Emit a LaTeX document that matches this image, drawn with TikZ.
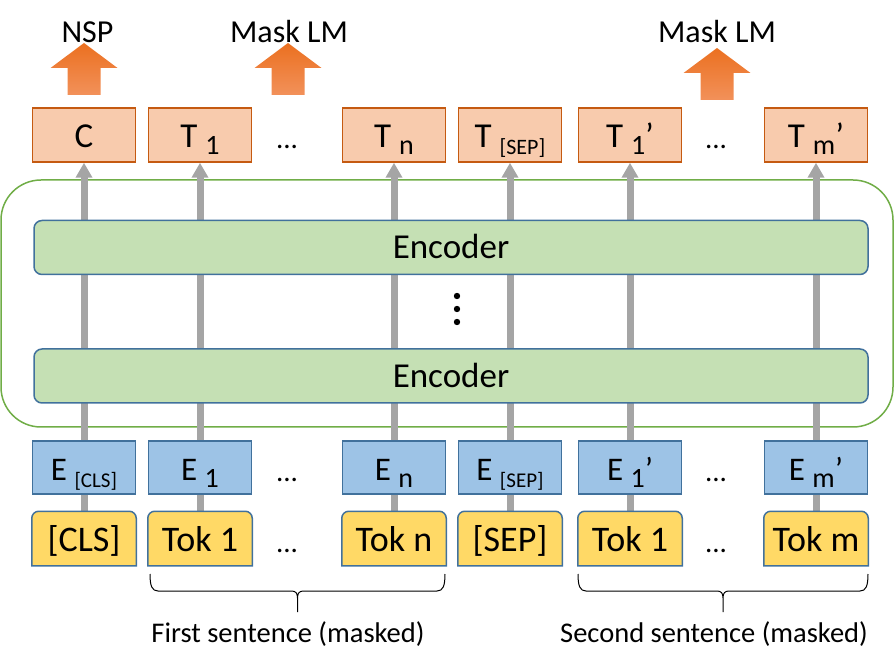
\documentclass[tikz,border=0pt]{standalone}
\usepackage{fontspec}
\setmainfont{Carlito}
\usetikzlibrary{positioning}
\usetikzlibrary{arrows.meta}
\pgfdeclarelayer{background}
\pgfsetlayers{background,main}
\definecolor{tline}{HTML}{C55A11}
\definecolor{tfill}{HTML}{F8CBAD}
\definecolor{bline}{HTML}{41719C}
\definecolor{efill}{HTML}{9DC3E6}
\definecolor{tokfill}{HTML}{FFD966}
\definecolor{encfill}{HTML}{C5E0B4}
\definecolor{blockgreen}{HTML}{70AD47}
\definecolor{flow}{HTML}{A5A5A5}
\definecolor{otop}{HTML}{EB7020}
\definecolor{obot}{HTML}{F2915A}
\newcommand{\sub}[2][28]{\raisebox{-7pt}{\fontsize{#1}{#1}\selectfont #2}}
\newcommand{\sentbrace}[3]% left x, right x, top y
{(#1,#3) .. controls (#1,#3+12) and (#1+2,#3+17) .. (#1+8,#3+17)
 -- ({(#1+#2)/2-6},#3+17) .. controls ({(#1+#2)/2-2},#3+17) and ({(#1+#2)/2},#3+19) .. ({(#1+#2)/2},#3+24)
 -- ({(#1+#2)/2},#3+38)
 (#2,#3) .. controls (#2,#3+12) and (#2-2,#3+17) .. (#2-8,#3+17)
 -- ({(#1+#2)/2+6},#3+17) .. controls ({(#1+#2)/2+2},#3+17) and ({(#1+#2)/2},#3+19) .. ({(#1+#2)/2},#3+24)
}
\newcommand{\taskarrow}[2]% tip x, tip y
{(#1,#2) -- (#1+33.5,#2+25) -- (#1+16.5,#2+25) -- (#1+16.5,#2+52) --
 (#1-16.5,#2+52) -- (#1-16.5,#2+25) -- (#1-33.5,#2+25) -- cycle
}
\newcommand{\tokshape}[1]% node name, top corners rounded
{(#1.south west) -- ([yshift=-7pt]#1.north west) arc[start angle=180,end angle=90,radius=7pt]
 -- ([xshift=-7pt]#1.north east) arc[start angle=90,end angle=0,radius=7pt] -- (#1.south east) -- cycle
}

\begin{document}
\begin{tikzpicture}[x=1pt,y=-1pt,line width=1.5pt]
\tikzstyle{tbox}=[draw=tline,fill=tfill,minimum width=103pt,minimum height=54pt,inner sep=0pt,text height=26pt,text depth=0pt,font=\fontsize{35}{35}\selectfont]
\tikzstyle{ebox}=[draw=bline,fill=efill,minimum width=103pt,minimum height=53pt,inner sep=0pt,text height=25pt,text depth=0pt,font=\fontsize{33}{33}\selectfont]
\tikzstyle{tokbox}=[minimum width=103pt,minimum height=53pt,inner sep=0pt,text height=26pt,text depth=0pt,font=\fontsize{36}{36}\selectfont]
\tikzstyle{encbox}=[draw=bline,fill=encfill,rounded corners=8pt,minimum width=834pt,minimum height=54pt,inner sep=0pt,text height=23pt,text depth=0pt,font=\fontsize{35}{35}\selectfont]
\tikzstyle{flowline}=[draw=flow,line width=7pt,-{Triangle[width=16pt,length=15pt]}]
\tikzstyle{dots}=[anchor=base,inner sep=0pt,font=\fontsize{29}{29}\selectfont]
\tikzstyle{task}=[anchor=base,inner sep=0pt,font=\fontsize{32}{32}\selectfont]
\tikzstyle{sent}=[anchor=base,inner sep=0pt,font=\fontsize{28.5}{28.5}\selectfont]
\useasboundingbox (0,0) rectangle (895,668);

% output row
\draw (84,135) node[tbox] (tc) {C}; % C
\draw (200,135) node[tbox] (t1) {T \sub{1}}; % T1
\draw (394,135) node[tbox] (tn) {T \sub{n}}; % Tn
\draw (510,135) node[tbox] (tsep) {T \sub[22]{[SEP]}}; % T[SEP]
\draw (630,135) node[tbox] (ta) {T \sub{1}’}; % T1'
\draw (816,135) node[tbox] (tm) {T \sub{m}’}; % Tm'

% encoder stack
\draw (451,247.5) node[encbox] (enctop) {Encoder};
\draw (451,376) node[encbox] (encbot) {Encoder};
\fill (457,296) circle (3.2) (457,309) circle (3.2) (457,322) circle (3.2); % vertical dots

% embedding row
\draw (84,467.5) node[ebox] (ecls) {E \sub[21]{[CLS]}}; % E[CLS]
\draw (200,467.5) node[ebox] (e1) {E \sub{1}}; % E1
\draw (394,467.5) node[ebox] (en) {E \sub{n}}; % En
\draw (510,467.5) node[ebox] (esep) {E \sub[21]{[SEP]}}; % E[SEP]
\draw (630,467.5) node[ebox] (ea) {E \sub{1}’}; % E1'
\draw (816,467.5) node[ebox] (em) {E \sub{m}’}; % Em'

% token row
\draw (84,538.5) node[tokbox] (cls) {[CLS]}; % [CLS]
\draw (200,538.5) node[tokbox] (tok1) {Tok 1}; % Tok 1
\draw (394,538.5) node[tokbox] (tokn) {Tok n}; % Tok n
\draw (510,538.5) node[tokbox] (sep) {[SEP]}; % [SEP]
\draw (630,538.5) node[tokbox] (toka) {Tok 1}; % Tok 1 (second)
\draw (816,538.5) node[tokbox] (tokm) {Tok m}; % Tok m

% dots between columns
\draw (287,149) node[dots] (dt1) {...};
\draw (716,149) node[dots] (dt2) {...};
\draw (287,482) node[dots] (de1) {...};
\draw (716,482) node[dots] (de2) {...};
\draw (287,552) node[dots] (dk1) {...};
\draw (716,552) node[dots] (dk2) {...};

\begin{pgfonlayer}{background}
\draw[blockgreen,line width=1.5pt,rounded corners=40pt] (1,180) rectangle (893,427); % transformer block
\draw[flowline] (cls.north) -- (tc.south);
\draw[flowline] (tok1.north) -- (t1.south);
\draw[flowline] (tokn.north) -- (tn.south);
\draw[flowline] (sep.north) -- (tsep.south);
\draw[flowline] (toka.north) -- (ta.south);
\draw[flowline] (tokm.north) -- (tm.south);
\filldraw[draw=bline,fill=tokfill,line width=1.5pt] \tokshape{cls} \tokshape{tok1} \tokshape{tokn}
 \tokshape{sep} \tokshape{toka} \tokshape{tokm};
\end{pgfonlayer}

% task heads
\shade[top color=otop,bottom color=obot] \taskarrow{84}{43};
\shade[top color=otop,bottom color=obot] \taskarrow{288}{43};
\shade[top color=otop,bottom color=obot] \taskarrow{717}{48};
\draw (87.5,43) node[task] (nsp) {NSP};
\draw (289,43) node[task] (mlm1) {Mask LM};
\draw (717,43) node[task] (mlm2) {Mask LM};

% sentence braces
\draw[line width=1pt] \sentbrace{150}{445}{574};
\draw[line width=1pt] \sentbrace{578}{868}{574};
\draw (288,642) node[sent] (first) {First sentence (masked)};
\draw (714,642) node[sent] (second) {Second sentence (masked)};
\end{tikzpicture}
\end{document}
